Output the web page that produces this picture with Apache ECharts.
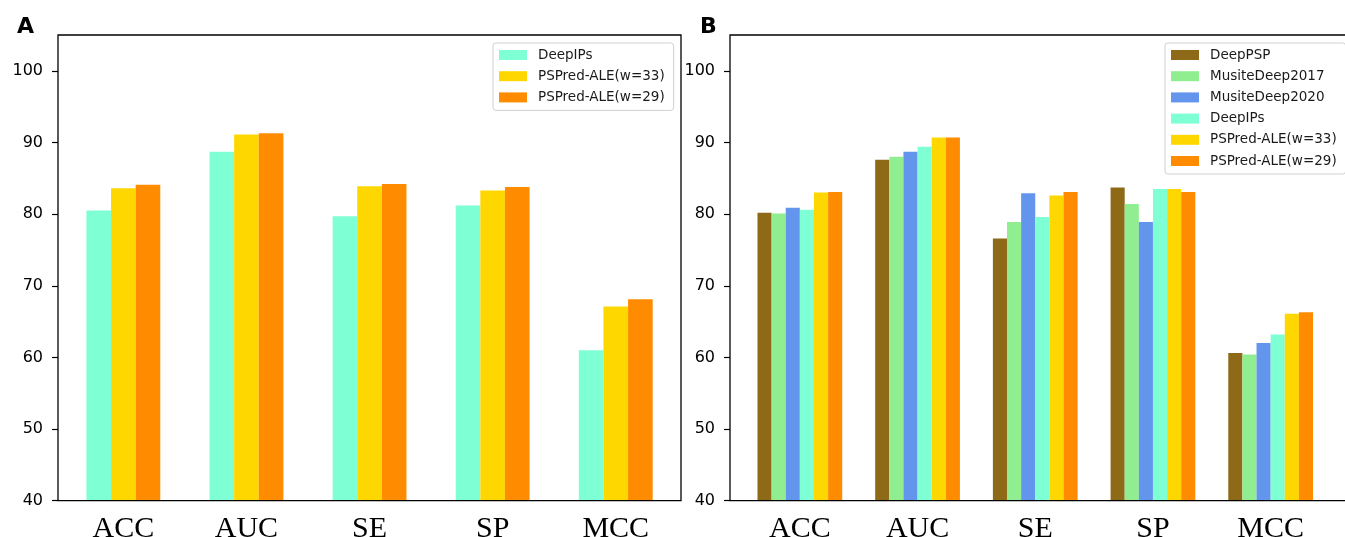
<!DOCTYPE html>
<html>
<head>
<meta charset="utf-8">
<script src="https://cdn.jsdelivr.net/npm/echarts@6/dist/echarts.min.js"></script>
<style>
html,body{margin:0;padding:0;background:#fff;}
#chart{width:1345px;height:537px;}
</style>
</head>
<body>
<div id="chart"></div>
<script>
// ---------- data ----------
const categories = ['ACC', 'AUC', 'SE', 'SP', 'MCC'];
const yTicks = [40, 50, 60, 70, 80, 90, 100];

// Panel A
const deepIPsA   = [80.5, 88.7, 79.7, 81.2, 61.0];
const pspred33A  = [83.6, 91.1, 83.9, 83.3, 67.1];
const pspred29A  = [84.1, 91.3, 84.2, 83.8, 68.1];

// Panel B
const deepPSPB   = [80.2, 87.6, 76.6, 83.7, 60.6];
const musite17B  = [80.1, 88.0, 78.9, 81.4, 60.4];
const musite20B  = [80.9, 88.7, 82.9, 78.9, 62.0];
const deepIPsB   = [80.6, 89.4, 79.6, 83.5, 63.2];
const pspred33B  = [83.0, 90.7, 82.6, 83.5, 66.1];
const pspred29B  = [83.1, 90.7, 83.1, 83.1, 66.3];

const namesA = ['DeepIPs', 'PSPred-ALE(w=33)', 'PSPred-ALE(w=29)'];
const namesB = ['DeepPSP', 'MusiteDeep2017', 'MusiteDeep2020', 'DeepIPs', 'PSPred-ALE(w=33)', 'PSPred-ALE(w=29)'];

const colors = {
  'DeepPSP': '#8E6A18',
  'MusiteDeep2017': '#90EE90',
  'MusiteDeep2020': '#6495ED',
  'DeepIPs': '#7FFFD4',
  'PSPred-ALE(w=33)': '#FFD700',
  'PSPred-ALE(w=29)': '#FF8C00'
};

// ---------- chart ----------
const chart = echarts.init(document.getElementById('chart'), null, {renderer: 'canvas'});

const Y_MIN = 40, Y_MAX = 105;
const sansFont = 'DejaVu Sans';
const serifFont = 'Liberation Serif';

function frameY(gridIndex) {
  return {
    type: 'value', gridIndex: gridIndex, min: Y_MIN, max: Y_MAX,
    axisLine: {show: false},
    splitLine: {show: false},
    axisTick: {show: true, length: 6, lineStyle: {color: '#000', width: 1.2}, customValues: yTicks},
    axisLabel: {show: true, margin: 15, color: '#000', fontFamily: sansFont, fontSize: 16, customValues: yTicks}
  };
}
function dataY(gridIndex) {
  return {type: 'value', gridIndex: gridIndex, min: Y_MIN, max: Y_MAX, show: false};
}
function frameX(gridIndex) {
  return {type: 'value', gridIndex: gridIndex, min: 0, max: 1, show: false};
}
function dataX(gridIndex) {
  return {
    type: 'category', gridIndex: gridIndex, data: categories,
    axisLine: {show: false}, axisTick: {show: false}, splitLine: {show: false},
    axisLabel: {margin: 13, color: '#000', fontFamily: serifFont, fontSize: 30}
  };
}

function bars(name, values, xi, yi, gap) {
  return {
    type: 'bar', name: name, data: values,
    xAxisIndex: xi, yAxisIndex: yi,
    barGap: '0%', barCategoryGap: gap,
    itemStyle: {color: colors[name]},
    emphasis: {disabled: true},
    animation: false
  };
}

const seriesA = [
  bars(namesA[0], deepIPsA, 1, 1, '40%'),
  bars(namesA[1], pspred33A, 1, 1, '40%'),
  bars(namesA[2], pspred29A, 1, 1, '40%')
];
const seriesB = [
  bars(namesB[0], deepPSPB, 3, 3, '28%'),
  bars(namesB[1], musite17B, 3, 3, '28%'),
  bars(namesB[2], musite20B, 3, 3, '28%'),
  bars(namesB[3], deepIPsB, 3, 3, '28%'),
  bars(namesB[4], pspred33B, 3, 3, '28%'),
  bars(namesB[5], pspred29B, 3, 3, '28%')
];

const legendCommon = {
  orient: 'vertical', icon: 'rect', itemWidth: 28, itemHeight: 10, itemGap: 7.2,
  backgroundColor: '#fff', borderColor: '#d0d0d0', borderWidth: 1, borderRadius: 3,
  padding: [5, 9, 6, 6], selectedMode: false,
  textStyle: {fontFamily: sansFont, fontSize: 13.5, color: '#1a1a1a', lineHeight: 13.5, padding: [0, 0, 0, 6]}
};

const gridCommon = {containLabel: false, outerBoundsMode: 'none'};

const option = {
  animation: false,
  backgroundColor: '#fff',
  title: [
    {text: 'A', left: 17, top: 16, padding: 0, textStyle: {fontFamily: sansFont, fontWeight: 'bold', fontSize: 22, color: '#000'}},
    {text: 'B', left: 700, top: 16, padding: 0, textStyle: {fontFamily: sansFont, fontWeight: 'bold', fontSize: 22, color: '#000'}}
  ],
  grid: [
    Object.assign({}, gridCommon, {left: 58, right: 1345 - 681, top: 35, bottom: 537 - 500.7, show: true, borderColor: '#000', borderWidth: 1.3, backgroundColor: 'transparent', z: 5}),
    Object.assign({}, gridCommon, {left: 61.8, right: 1345 - 677.3, top: 35, bottom: 537 - 500.7}),
    Object.assign({}, gridCommon, {left: 730, right: -3, top: 35, bottom: 537 - 500.7, show: true, borderColor: '#000', borderWidth: 1.3, backgroundColor: 'transparent', z: 5}),
    Object.assign({}, gridCommon, {left: 741, right: 1345 - 1329.5, top: 35, bottom: 537 - 500.7})
  ],
  xAxis: [frameX(0), dataX(1), frameX(2), dataX(3)],
  yAxis: [frameY(0), dataY(1), frameY(2), dataY(3)],
  legend: [
    Object.assign({}, legendCommon, {left: 493, top: 43, data: namesA}),
    Object.assign({}, legendCommon, {left: 1165, top: 43, data: namesB})
  ],
  series: seriesA.concat(seriesB)
};

chart.setOption(option);
</script>
</body>
</html>
